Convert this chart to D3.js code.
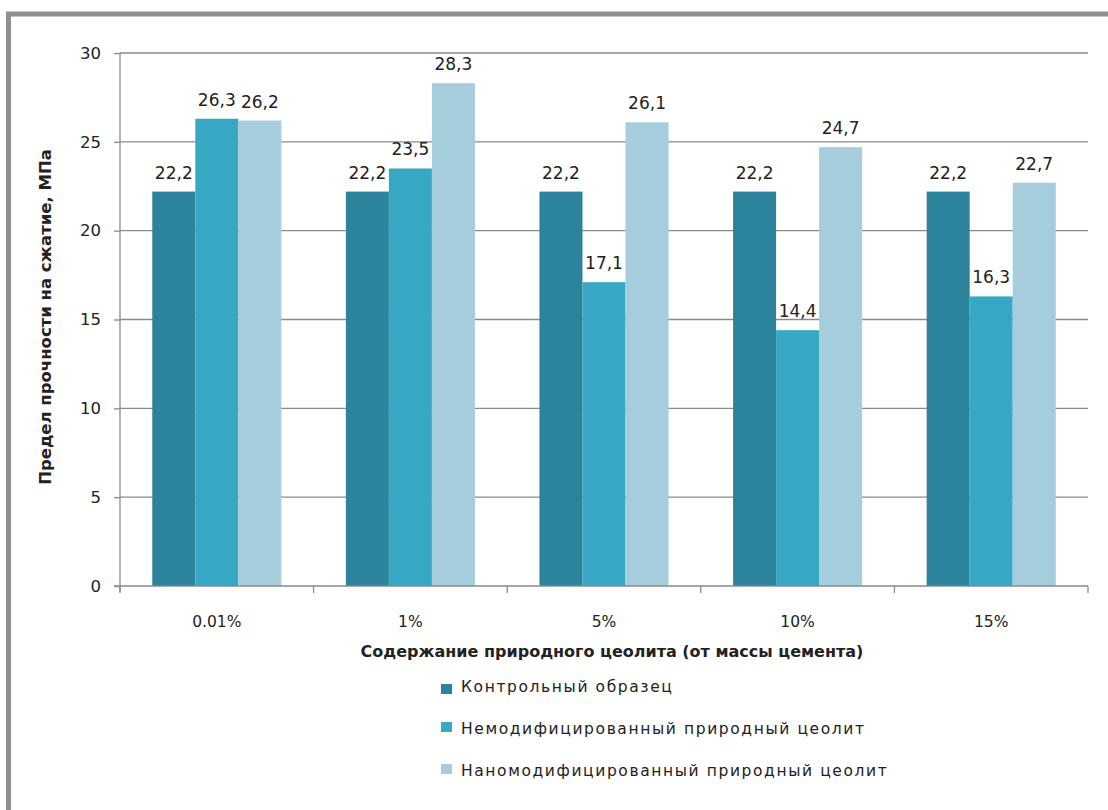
<!DOCTYPE html>
<html>
<head>
<meta charset="utf-8">
<script src="https://cdn.jsdelivr.net/npm/d3@7"></script>
<style>
  html, body { margin: 0; padding: 0; background: #fff; }
  text { font-family: "DejaVu Sans", sans-serif; fill: #222; }
</style>
</head>
<body>
<svg id="chart" width="1108" height="810"></svg>
<script>
// Chart data
const categories = ['0.01%', '1%', '5%', '10%', '15%'];
const seriesNames = [
  'Контрольный образец',
  'Немодифицированный природный цеолит',
  'Наномодифицированный природный цеолит'
];
const control = [22.2, 22.2, 22.2, 22.2, 22.2];
const unmodified = [26.3, 23.5, 17.1, 14.4, 16.3];
const nanomodified = [26.2, 28.3, 26.1, 24.7, 22.7];
const yTicks = [0, 5, 10, 15, 20, 25, 30];

const seriesValues = [control, unmodified, nanomodified];
const colors = ['#2b849b', '#37a8c3', '#a6cddb'];

const svg = d3.select('#chart');

// Outer frame (grey border top and left)
svg.append('rect')
  .attr('x', 8.5).attr('y', 14)
  .attr('width', 1108).attr('height', 810)
  .attr('fill', 'none')
  .attr('stroke', '#8e8e93')
  .attr('stroke-width', 5);

const margin = { left: 120, top: 53, right: 20, bottom: 224 };
const plotW = 1088 - margin.left;
const plotH = 586 - margin.top;

const g = svg.append('g')
  .attr('transform', `translate(${margin.left},${margin.top})`);

const x0 = d3.scaleBand()
  .domain(categories)
  .range([0, plotW])
  .paddingInner(0)
  .paddingOuter(0);

// Excel-like gap width of 150%
const barW = x0.bandwidth() / 4.5;
const x1 = d3.scaleBand()
  .domain(d3.range(seriesValues.length))
  .range([barW * 0.75, barW * 3.75])
  .padding(0);

const y = d3.scaleLinear().domain([0, 30]).range([plotH, 0]);

// Gridlines
g.append('g')
  .selectAll('line')
  .data(yTicks.filter(t => t > 0))
  .enter()
  .append('line')
  .attr('x1', 0).attr('x2', plotW)
  .attr('y1', d => y(d)).attr('y2', d => y(d))
  .attr('stroke', '#8a8a8a')
  .attr('stroke-width', 1.3);

// Y axis
const yAxis = g.append('g')
  .call(d3.axisLeft(y).tickValues(yTicks).tickSize(6).tickPadding(13));
yAxis.select('.domain').attr('stroke', '#8a8a8a').attr('stroke-width', 1.3)
  .attr('d', `M0,${plotH + 6}V0`);
yAxis.selectAll('.tick line').attr('stroke', '#8a8a8a').attr('stroke-width', 1.3);
yAxis.selectAll('.tick text')
  .attr('font-size', 16.5)
  .attr('fill', '#222')
  .style('font-family', '"DejaVu Sans", sans-serif');

// Bars
const groups = g.selectAll('.cat')
  .data(categories)
  .enter()
  .append('g')
  .attr('class', 'cat')
  .attr('transform', d => `translate(${x0(d)},0)`);

groups.selectAll('rect')
  .data((d, i) => seriesValues.map((s, k) => ({ k, v: s[i] })))
  .enter()
  .append('rect')
  .attr('x', d => x1(d.k))
  .attr('width', x1.bandwidth())
  .attr('y', d => y(d.v))
  .attr('height', d => plotH - y(d.v))
  .attr('fill', d => colors[d.k]);

// Data labels
groups.selectAll('.lbl')
  .data((d, i) => seriesValues.map((s, k) => ({ k, v: s[i] })))
  .enter()
  .append('text')
  .attr('class', 'lbl')
  .attr('x', d => x1(d.k) + x1.bandwidth() / 2)
  .attr('y', d => y(d.v) - 13)
  .attr('text-anchor', 'middle')
  .attr('font-size', 17)
  .text(d => d.v.toFixed(1).replace('.', ','));

// X axis
const xAxis = g.append('g')
  .attr('transform', `translate(0,${plotH})`);
xAxis.append('line')
  .attr('x1', -6).attr('x2', plotW)
  .attr('stroke', '#8a8a8a').attr('stroke-width', 1.3);
xAxis.selectAll('.xt')
  .data(categories.map(c => x0(c)).concat([plotW]))
  .enter()
  .append('line')
  .attr('x1', d => d).attr('x2', d => d)
  .attr('y1', 0).attr('y2', 7)
  .attr('stroke', '#8a8a8a').attr('stroke-width', 1.3);
xAxis.selectAll('.xl')
  .data(categories)
  .enter()
  .append('text')
  .attr('x', d => x0(d) + x0.bandwidth() / 2)
  .attr('y', 41)
  .attr('text-anchor', 'middle')
  .attr('font-size', 15.5)
  .text(d => d);

// Axis titles
svg.append('text')
  .attr('x', 612)
  .attr('y', 657)
  .attr('text-anchor', 'middle')
  .attr('font-size', 16)
  .attr('font-weight', 'bold')
  .text('Содержание природного цеолита (от массы цемента)');

svg.append('text')
  .attr('transform', 'translate(51,317) rotate(-90)')
  .attr('text-anchor', 'middle')
  .attr('font-size', 16.5)
  .attr('font-weight', 'bold')
  .text('Предел прочности на сжатие, МПа');

// Legend
const legend = svg.append('g')
  .attr('transform', 'translate(441,0)');
const legendY = [687, 729, 771];
const items = legend.selectAll('.li')
  .data(seriesNames)
  .enter()
  .append('g')
  .attr('transform', (d, i) => `translate(0,${legendY[i]})`);
items.append('rect')
  .attr('x', 0).attr('y', (d, i) => i === 0 ? -3 : -7)
  .attr('width', 11).attr('height', 10)
  .attr('fill', (d, i) => colors[i]);
items.append('text')
  .attr('x', 20)
  .attr('y', 0)
  .attr('dy', '0.35em')
  .attr('font-size', 15.5)
  .attr('letter-spacing', '1.6px')
  .text(d => d);
</script>
</body>
</html>
